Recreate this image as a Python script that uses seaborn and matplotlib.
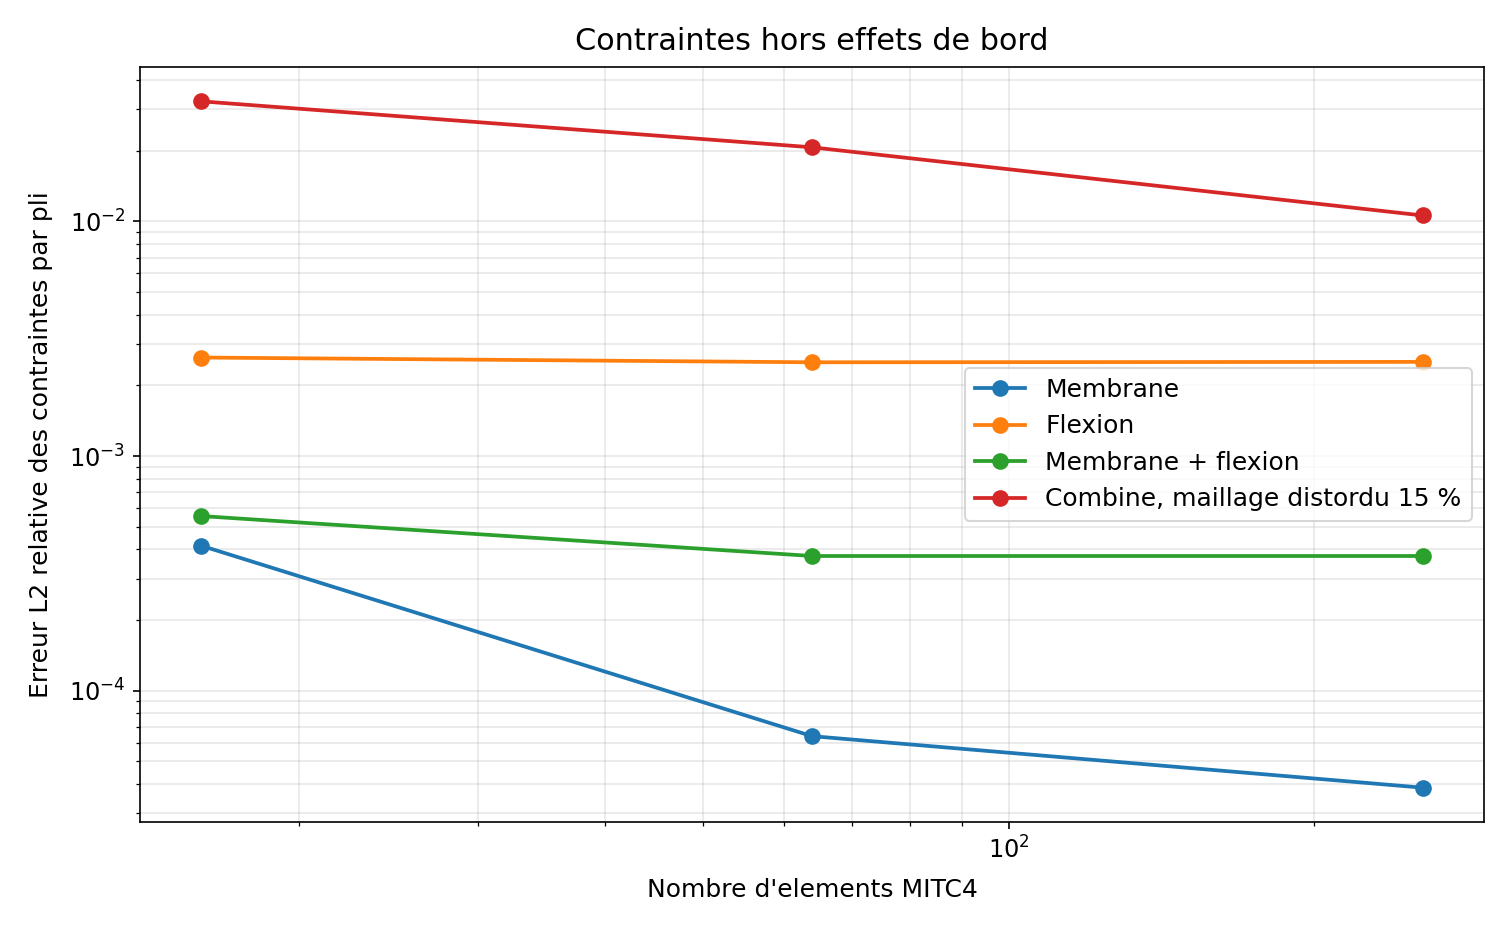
import matplotlib
matplotlib.use("Agg")
import matplotlib.pyplot as plt
import pandas as pd
import seaborn as sns

# nombre d'elements
n_elements = [16, 64, 256]

membrane = [4.15e-4, 6.4e-5, 3.86e-5]
flexion = [2.63e-3, 2.51e-3, 2.52e-3]
membrane_flexion = [5.55e-4, 3.75e-4, 3.75e-4]
combine_distordu = [3.25e-2, 2.07e-2, 1.06e-2]

series_labels = [
    "Membrane",
    "Flexion",
    "Membrane + flexion",
    "Combine, maillage distordu 15 %",
]

df = pd.DataFrame(
    {
        "n": n_elements * 4,
        "err": membrane + flexion + membrane_flexion + combine_distordu,
        "cas": [lab for lab in series_labels for _ in n_elements],
    }
)

plt.rcdefaults()
plt.rcParams["font.family"] = ["DejaVu Sans"]

fig = plt.figure(figsize=(10.08, 6.24), dpi=150)
ax = fig.add_axes([0.0926, 0.1218, 0.8889, 0.8066])
palette = ["#1f77b4", "#ff7f0e", "#2ca02c", "#d62728"]
sns.lineplot(
    data=df, x="n", y="err", hue="cas", hue_order=series_labels,
    palette=palette, marker="o", markersize=8, markeredgewidth=0,
    linewidth=1.8, ax=ax,
)

ax.set_xscale("log")
ax.set_yscale("log")
ax.grid(True, which="major", alpha=0.3)
ax.grid(True, which="minor", alpha=0.3)
ax.tick_params(labelsize=11.5)
ax.set_xlabel("Nombre d'elements MITC4", fontsize=12, labelpad=7)
ax.set_ylabel("Erreur L2 relative des contraintes par pli", fontsize=12, labelpad=7.5)
ax.set_title("Contraintes hors effets de bord", fontsize=14.5, pad=8)
ax.legend(loc="center right", fontsize=12, title=None)

fig.savefig("out.png", dpi=150)
